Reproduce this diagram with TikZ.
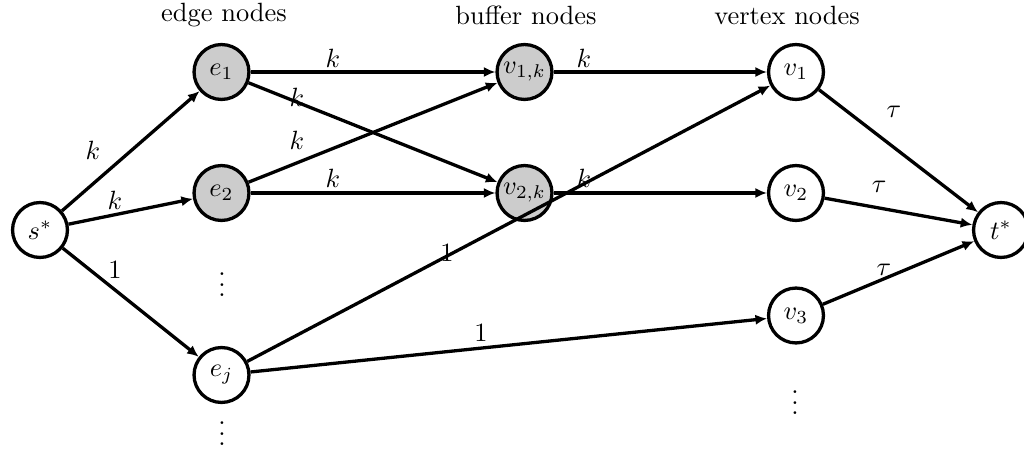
\documentclass[tikz,border=0pt]{standalone}
\usetikzlibrary{arrows.meta}
\begin{document}
\begin{tikzpicture}[x=0.3788pt,y=-0.3788pt,
  vnode/.style={circle,draw,line width=1.25pt,minimum size=20.8pt,inner sep=0pt},
  gnode/.style={vnode,fill=black!20},
  arr/.style={line width=1.25pt,-{Latex[length=4.4pt,width=3.9pt]}},
  lbl/.style={inner sep=0pt},
  dotsn/.style={inner sep=0pt}]
\useasboundingbox (0,0) rectangle (1024,450);
\node[vnode] (s) at (40,230) {$s^*$};
\node[gnode] (e1) at (221.5,72) {$e_1$};
\node[gnode] (e2) at (221.5,193) {$e_2$};
\node[vnode] (ej) at (221.5,375) {$e_j$};
\node[gnode] (b1) at (524.5,72) {$v_{1,k}$};
\node[gnode] (b2) at (524.5,193) {$v_{2,k}$};
\node[vnode] (v1) at (796,72) {$v_1$};
\node[vnode] (v2) at (796,193) {$v_2$};
\node[vnode] (v3) at (796,315.5) {$v_3$};
\node[vnode] (t) at (1001,230) {$t^*$};
\node[dotsn] (d1) at (222,277) {$\vdots$};
\node[dotsn] (d2) at (222,426) {$\vdots$};
\node[dotsn] (d3) at (795,395) {$\vdots$};
\node (h1) at (224,15) {edge nodes};
\node (h2) at (526,15) {buffer nodes};
\node (h3) at (787,15) {vertex nodes};
\draw[arr] (s) -- (e1);
\draw[arr] (s) -- (e2);
\draw[arr] (s) -- (ej);
\draw[arr] (e1) -- (b1);
\draw[arr] (e1) -- (b2);
\draw[arr] (e2) -- (b1);
\draw[arr] (e2) -- (b2);
\draw[arr] (ej) -- (v1);
\draw[arr] (ej) -- (v3);
\draw[arr] (b1) -- (v1);
\draw[arr] (b2) -- (v2);
\draw[arr] (v1) -- (t);
\draw[arr] (v2) -- (t);
\draw[arr] (v3) -- (t);
\node[lbl] (l1) at (93,150) {$k$};
\node[lbl] (l2) at (115,200) {$k$};
\node[lbl] (l3) at (115,270) {$1$};
\node[lbl] (l4) at (333,58) {$k$};
\node[lbl] (l5) at (297,97) {$k$};
\node[lbl] (l6) at (297,140) {$k$};
\node[lbl] (l7) at (333,178) {$k$};
\node[lbl] (l8) at (584,58) {$k$};
\node[lbl] (l9) at (584,178) {$k$};
\node[lbl] (l10) at (447,253) {$1$};
\node[lbl] (l11) at (481,333) {$1$};
\node[lbl] (l12) at (894,112) {$\tau$};
\node[lbl] (l13) at (879,187) {$\tau$};
\node[lbl] (l14) at (884,270) {$\tau$};
\end{tikzpicture}
\end{document}
